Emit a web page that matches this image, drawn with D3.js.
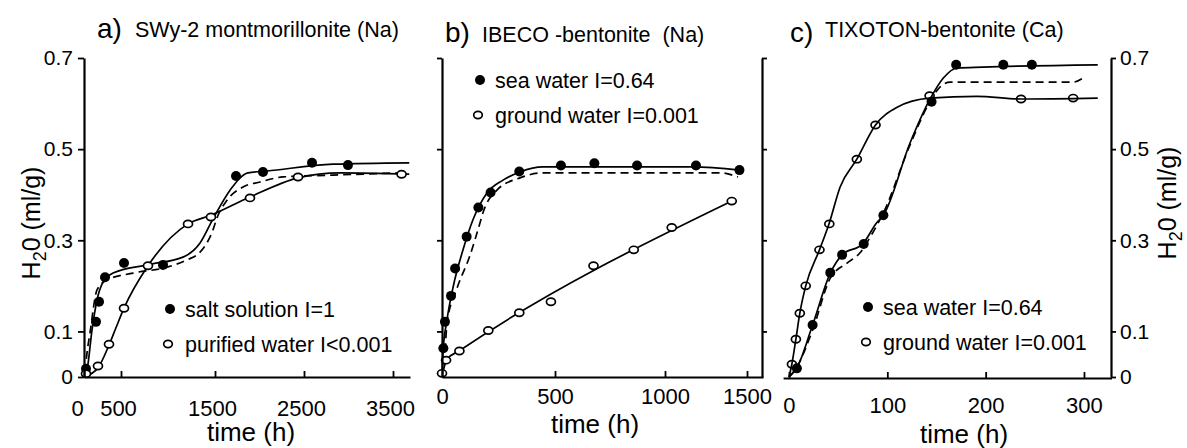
<!DOCTYPE html>
<html>
<head>
<meta charset="utf-8">
<script src="https://cdn.jsdelivr.net/npm/d3@7"></script>
<style>
  body { margin: 0; background: #fff; }
  svg { font-family: "Liberation Sans", Arial, sans-serif; }
</style>
</head>
<body>
<svg id="chart" width="1187" height="448"></svg>
<script>
// values: [time (h), H2O (ml/g)]

// a) SWy-2 montmorillonite
var aSaltObs = [[27,0.018],[162,0.121],[203,0.165],[284,0.219],[532,0.250],[947,0.246],[1736,0.441],[2039,0.450],[2590,0.470],[2994,0.465]];
var aSaltFit = [[0,0],[41,0.015],[108,0.103],[176,0.169],[257,0.208],[392,0.228],[777,0.246],[1160,0.263],[1341,0.294],[1479,0.347],[1669,0.410],[1871,0.448],[2084,0.452],[2826,0.467],[3691,0.470]];
var aSaltDash = [[14,0.011],[41,0.053],[81,0.097],[176,0.191],[311,0.213],[628,0.228],[989,0.241],[1202,0.257],[1341,0.274],[1479,0.323],[1522,0.349],[1635,0.388],[1815,0.417],[2006,0.428],[2264,0.439],[2826,0.443],[3579,0.448]];
var aPureObs = [[27,0.007],[189,0.024],[338,0.072],[532,0.151],[787,0.244],[1213,0.336],[1457,0.351],[1893,0.393],[2433,0.439],[3601,0.445]];
var aPureFit = [[0,0],[189,0.020],[338,0.070],[432,0.108],[532,0.151],[787,0.244],[1213,0.336],[1457,0.355],[1893,0.395],[2433,0.437],[2905,0.448],[3691,0.445]];

// b) IBECO bentonite
var bSeaObs = [[6,0.063],[13,0.121],[40,0.178],[58,0.238],[109,0.308],[161,0.372],[215,0.405],[342,0.451],[527,0.464],[679,0.469],[873,0.464],[1189,0.464],[1454,0.454]];
var bSeaFit = [[0,0],[4,0.053],[22,0.125],[49,0.197],[93,0.279],[137,0.345],[199,0.404],[270,0.432],[345,0.450],[447,0.461],[645,0.461],[1171,0.461],[1457,0.454]];
var bSeaDash = [[0,0],[13,0.053],[22,0.118],[66,0.194],[124,0.267],[168,0.338],[181,0.360],[243,0.410],[345,0.437],[447,0.448],[1335,0.448],[1445,0.439]];
var bGroundObs = [[0,0.008],[18,0.037],[77,0.057],[205,0.102],[342,0.141],[482,0.165],[675,0.244],[858,0.279],[1041,0.328],[1407,0.386]];
var bGroundFit = [[0,0.002],[22,0.039],[75,0.057],[1408,0.386]];

// c) TIXOTON bentonite
var cSeaObs = [[8,0.019],[24,0.114],[42,0.229],[54,0.268],[76,0.292],[96,0.355],[145,0.604],[170,0.685],[218,0.685],[247,0.685]];
var cSeaFit = [[0,0],[8,0.020],[24,0.114],[42,0.228],[54,0.268],[75,0.292],[89,0.338],[96,0.355],[123,0.513],[143,0.608],[157,0.656],[171,0.678],[197,0.680],[314,0.685]];
var cSeaDash = [[0,0],[8,0.022],[24,0.103],[42,0.217],[59,0.250],[72,0.272],[85,0.316],[96,0.360],[123,0.509],[143,0.603],[151,0.630],[164,0.647],[289,0.647],[299,0.656]];
var cGroundObs = [[3,0.028],[7,0.083],[11,0.140],[17,0.200],[31,0.279],[41,0.336],[69,0.478],[88,0.553],[143,0.617],[236,0.610],[289,0.612]];
var cGroundFit = [[0,0],[3,0.029],[7,0.083],[11,0.140],[17,0.200],[31,0.279],[41,0.338],[52,0.417],[69,0.478],[88,0.553],[110,0.592],[143,0.612],[191,0.616],[236,0.610],[314,0.612]];

// tick labels, titles, legend entries
var yTicks = [0, 0.1, 0.3, 0.5, 0.7];
var aTimeTicks = [0, 500, 1500, 2500, 3500];
var bTimeTicks = [0, 500, 1000, 1500];
var cTimeTicks = [0, 100, 200, 300];
var panelLetters = ["a)", "b)", "c)"];
var panelNames = ["SWy-2 montmorillonite (Na)", "IBECO -bentonite  (Na)", "TIXOTON-bentonite (Ca)"];
var aLegend = ["salt solution I=1", "purified water I<0.001"];
var bLegend = ["sea water I=0.64", "ground water I=0.001"];
var cLegend = ["sea water I=0.64", "ground water I=0.001"];

var FONT = "'Liberation Sans', Arial, sans-serif";
var svg = d3.select("#chart");

var y = d3.scaleLinear().domain([0, 0.7]).range([377, 58]);
// the scan is not quite linear along time, so the time scales are piecewise
var xa = d3.scaleLinear().domain([0, 500, 1500, 2500, 3500, 3700]).range([84, 121, 215, 304, 393, 410]);
var xb = d3.scaleLinear().domain([0, 500, 1000, 1500, 1600]).range([442, 555, 665, 747, 763]);
var xc = d3.scaleLinear().domain([-6, 328]).range([783.1, 1111.5]);

function curve(x, pts, dashed) {
    svg.append("path").datum(pts)
        .attr("d", d3.line().x(function(d){ return x(d[0]); }).y(function(d){ return y(d[1]); }).curve(d3.curveMonotoneX))
        .attr("fill", "none")
        .attr("stroke", "#000")
        .attr("stroke-width", 1.7)
        .attr("stroke-dasharray", dashed ? "8,5" : null);
}

function dots(x, pts, filled, hollowFill) {
    svg.append("g").selectAll("ellipse").data(pts).join("ellipse")
        .attr("cx", function(d){ return x(d[0]); })
        .attr("cy", function(d){ return y(d[1]); })
        .attr("rx", filled ? 5 : 4.5)
        .attr("ry", filled ? 5 : 3.6)
        .attr("fill", filled ? "#000" : hollowFill)
        .attr("stroke", "#000")
        .attr("stroke-width", filled ? 0 : 1.7);
}

function styleAxis(g, size) {
    g.select(".domain").attr("stroke-width", 2.2);
    g.selectAll(".tick line").attr("stroke-width", 1.8);
    g.selectAll("text").attr("font-size", size).attr("font-family", FONT).attr("fill", "#000");
}

var fmt = function(d){ return d === 0 ? "0" : d3.format(".1f")(d); };
var tfmt = function(d){ return String(d); };

// ---- curves and points
curve(xa, aSaltDash, true);
curve(xa, aSaltFit, false);
curve(xa, aPureFit, false);
dots(xa, aSaltObs, true);
dots(xa, aPureObs, false, "#fff");

curve(xb, bSeaDash, true);
curve(xb, bSeaFit, false);
curve(xb, bGroundFit, false);
dots(xb, bSeaObs, true);
dots(xb, bGroundObs, false, "#fff");

curve(xc, cSeaDash, true);
curve(xc, cSeaFit, false);
curve(xc, cGroundFit, false);
dots(xc, cSeaObs, true);
dots(xc, cGroundObs, false, "none");

// ---- axes
var gya = svg.append("g").attr("transform", "translate(84,0)")
    .call(d3.axisLeft(y).tickValues(yTicks).tickSize(6).tickSizeOuter(0).tickPadding(5).tickFormat(fmt));
styleAxis(gya, 21);

var gyb = svg.append("g").attr("transform", "translate(442,0)")
    .call(d3.axisLeft(y).tickValues(yTicks.slice(1)).tickSize(5).tickSizeOuter(0).tickFormat(""));
styleAxis(gyb, 21);

var gmid = svg.append("g").attr("transform", "translate(762,0)")
    .call(d3.axisRight(y).tickValues(yTicks.slice(1)).tickSize(5).tickSizeOuter(0).tickFormat(""));
styleAxis(gmid, 21);

var gyc = svg.append("g").attr("transform", "translate(1111,0)")
    .call(d3.axisRight(y).tickValues(yTicks).tickSize(5).tickSizeOuter(0).tickPadding(4).tickFormat(fmt));
styleAxis(gyc, 21);

var gxa = svg.append("g").attr("transform", "translate(0,377)")
    .call(d3.axisBottom(xa).tickValues(aTimeTicks).tickSize(-6).tickSizeOuter(0).tickPadding(23).tickFormat(tfmt));
styleAxis(gxa, 22);
gxa.selectAll(".tick text").attr("dx", function(d){ return d === 0 ? -7 : -3; });

var gxb = svg.append("g").attr("transform", "translate(0,377)")
    .call(d3.axisBottom(xb).tickValues(bTimeTicks).tickSize(-6).tickSizeOuter(0).tickPadding(11).tickFormat(tfmt));
styleAxis(gxb, 22);

var gxc = svg.append("g").attr("transform", "translate(0,378)")
    .call(d3.axisBottom(xc).tickValues(cTimeTicks).tickSize(-6).tickSizeOuter(0).tickPadding(19).tickFormat(tfmt));
styleAxis(gxc, 22);

// ---- titles
var letterPos = [[97, 38], [445, 42], [790, 42]];
var namePos = [[135, 37], [482, 42], [825, 37]];
panelLetters.forEach(function(t, i) {
    svg.append("text").attr("x", letterPos[i][0]).attr("y", letterPos[i][1])
        .attr("font-size", 28).text(t);
    svg.append("text").attr("x", namePos[i][0]).attr("y", namePos[i][1])
        .attr("font-size", 21.5).style("white-space", "pre").text(panelNames[i]);
});

// ---- axis titles
var timePos = [[251, 441], [595, 433], [964, 443]];
timePos.forEach(function(p) {
    svg.append("text").attr("x", p[0]).attr("y", p[1])
        .attr("text-anchor", "middle").attr("font-size", 26).text("time (h)");
});

function waterLabel(x, yy) {
    var t = svg.append("text").attr("transform", "translate(" + x + "," + yy + ") rotate(-90)")
        .attr("text-anchor", "middle").attr("font-size", 25);
    t.append("tspan").text("H");
    t.append("tspan").attr("dy", 6).attr("font-size", 18).text("2");
    t.append("tspan").attr("dy", -6).text("0 (ml/g)");
}
waterLabel(40, 223);
waterLabel(1176, 203);

// ---- legends
function legend(x, yy, labels) {
    var rows = [{ filled: true, dy: 0 }, { filled: false, dy: 35 }];
    rows.forEach(function(r, i) {
        svg.append("ellipse").attr("cx", x - (r.filled ? 0 : 2)).attr("cy", yy + r.dy)
            .attr("rx", r.filled ? 5 : 4.3).attr("ry", r.filled ? 5 : 3.6)
            .attr("fill", r.filled ? "#000" : "#fff")
            .attr("stroke", "#000").attr("stroke-width", r.filled ? 0 : 1.7);
        svg.append("text").attr("x", x + 15).attr("y", yy + r.dy + 8)
            .attr("font-size", 21.5).text(labels[i]);
    });
}
legend(170, 309, aLegend);
legend(480, 80, bLegend);
legend(868, 307, cLegend);
</script>
</body>
</html>
